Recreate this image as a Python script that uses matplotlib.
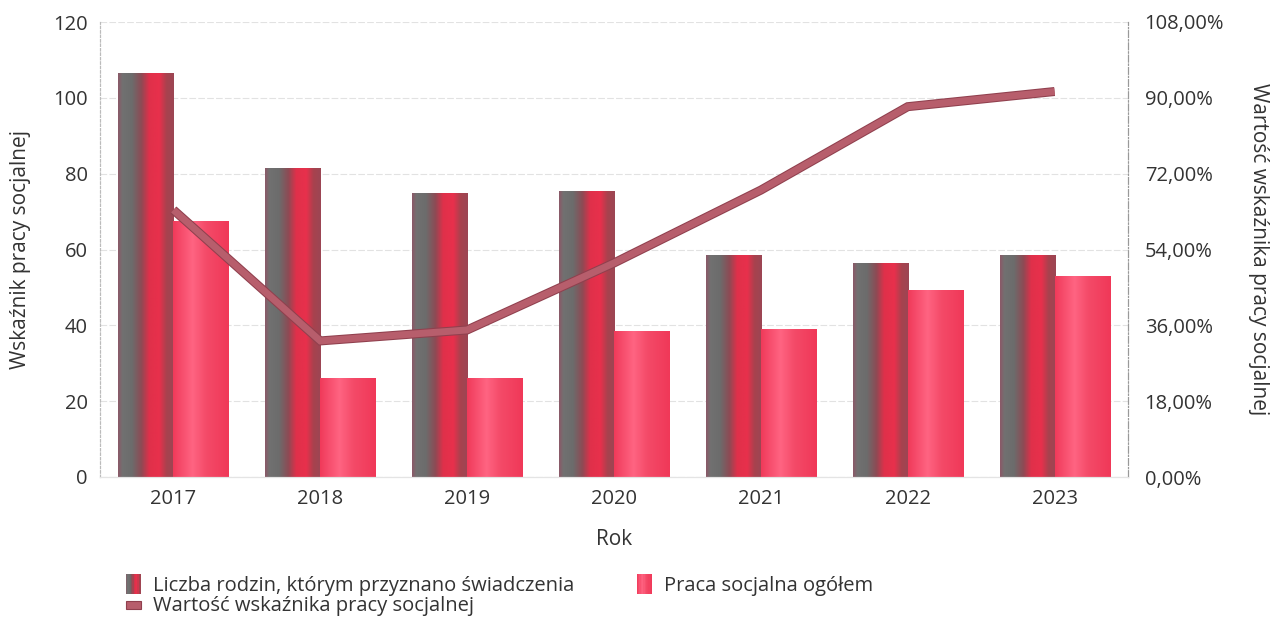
import matplotlib
matplotlib.use("Agg")
import matplotlib.pyplot as plt
import numpy as np
from matplotlib.colors import LinearSegmentedColormap
from matplotlib.legend_handler import HandlerBase
from matplotlib.patches import Rectangle
from matplotlib.lines import Line2D
import matplotlib.patheffects as pe

plt.rcParams['font.family'] = ['Open Sans', 'DejaVu Sans']

years = ["2017", "2018", "2019", "2020", "2021", "2022", "2023"]
liczba_rodzin = [106.5, 81.3, 74.7, 75.2, 58.4, 56.4, 58.3]
praca_socjalna = [67.5, 26.1, 26.1, 38.3, 39.0, 49.1, 53.0]
wskaznik = [63.4, 32.3, 34.9, 50.8, 68.1, 87.9, 91.5]

lab_rodziny = "Liczba rodzin, którym przyznano świadczenia"
lab_praca = "Praca socjalna ogółem"
lab_wsk = "Wartość wskaźnika pracy socjalnej"

cmap1 = LinearSegmentedColormap.from_list("g1", [
    (0.0, "#8c5868"), (0.08, "#717171"), (0.25, "#6c6c6c"), (0.42, "#8e4a54"),
    (0.56, "#e0304a"), (0.74, "#e8304c"), (0.87, "#a8424e"), (1.0, "#9c4654")])
cmap2 = LinearSegmentedColormap.from_list("g2", [
    (0.0, "#f03a5a"), (0.35, "#ff6482"), (0.6, "#f44a68"), (1.0, "#f03858")])
line_col = "#b75e6c"
line_edge = "#90404e"
text_col = "#333333"

fig = plt.figure(figsize=(12.75, 6.18), dpi=100)
ax = fig.add_axes([100/1275, 1-477/618, 1028/1275, 455/618])
ax2 = ax.twinx()

x = np.arange(len(years))
w = 0.375
b1 = ax.bar(x - w/2, liczba_rodzin, w, color="none", zorder=2)
b2 = ax.bar(x + w/2, praca_socjalna, w, color="none", zorder=2)

grad = np.linspace(0, 1, 256).reshape(1, -1)
for bars, cm in ((b1, cmap1), (b2, cmap2)):
    for p in bars:
        x0, y0 = p.get_x(), p.get_y()
        ax.imshow(grad, cmap=cm, aspect="auto", interpolation="bilinear",
                  extent=(x0, x0 + p.get_width(), y0, y0 + p.get_height()), zorder=2)

ax.set_xlim(-0.5, 6.5)
ax.set_ylim(0, 120)
ax.set_yticks(np.arange(0, 121, 20))
ax.set_xticks(x)
ax.set_xticklabels(years)
ax.yaxis.grid(True, color="#e2e2e2", linestyle=(0, (6, 2)), linewidth=0.8)
ax.set_axisbelow(True)
ax.tick_params(length=0, labelsize=14.5, colors=text_col, pad=9)
ax.set_xlabel("Rok", fontsize=15, color=text_col, labelpad=14)
ax.set_ylabel("Wskaźnik pracy socjalnej", fontsize=15, color=text_col, labelpad=16)

ax2.plot(x, wskaznik, color=line_col, lw=5, solid_capstyle="butt",
         solid_joinstyle="miter", zorder=5,
         path_effects=[pe.Stroke(linewidth=6.5, foreground=line_edge), pe.Normal()])
ax2.set_ylim(0, 108)
ax2.set_yticks(np.arange(0, 109, 18))
ax2.set_yticklabels([f"{v:.2f}%".replace(".", ",") for v in np.arange(0, 109, 18)])
ax2.tick_params(length=0, labelsize=14.5, colors=text_col, pad=12)
ax2.set_ylabel("Wartość wskaźnika pracy socjalnej", fontsize=15, color=text_col,
               rotation=270, labelpad=32)

for a in (ax, ax2):
    a.spines["top"].set_visible(False)
    a.spines["bottom"].set_color("#e4e4e4")
    a.spines["left"].set_color("#bbbbbb")
    a.spines["left"].set_linestyle((0, (2, 2)))
    a.spines["left"].set_linewidth(0.8)
    a.spines["right"].set_color("#999999")
    a.spines["right"].set_linestyle((0, (6, 2, 1, 2)))
    a.spines["right"].set_linewidth(0.8)


class GradHandler(HandlerBase):
    def __init__(self, cm):
        super().__init__()
        self.cm = cm

    def create_artists(self, legend, orig, xd, yd, width, height, fontsize, trans):
        n = 12
        arts = []
        for i in range(n):
            r = Rectangle((xd + width*i/n, yd - 2), width/n, height + 4,
                          facecolor=self.cm((i + 0.5)/n), edgecolor="none",
                          transform=trans)
            arts.append(r)
        return arts


class BarLineHandler(HandlerBase):
    def create_artists(self, legend, orig, xd, yd, width, height, fontsize, trans):
        r = Rectangle((xd, yd + height*0.15), width, height*0.6,
                      facecolor=line_col, edgecolor=line_edge, lw=0.8, transform=trans)
        return [r]


h1 = Rectangle((0, 0), 1, 1)
h2 = Rectangle((0, 0), 1, 1)
h3 = Line2D([], [])
fig.legend([h1, h3, h2], [lab_rodziny, lab_wsk, lab_praca],
           handler_map={h1: GradHandler(cmap1), h2: GradHandler(cmap2),
                        h3: BarLineHandler()},
           loc="upper left", bbox_to_anchor=(112/1275, 1-562/618), ncol=2,
           frameon=False, fontsize=14.5, handlelength=0.75, handleheight=0.7,
           handletextpad=0.6, columnspacing=3.1, labelspacing=0.0,
           borderpad=0.2, labelcolor=text_col)

fig.savefig("out.png", dpi=100)
